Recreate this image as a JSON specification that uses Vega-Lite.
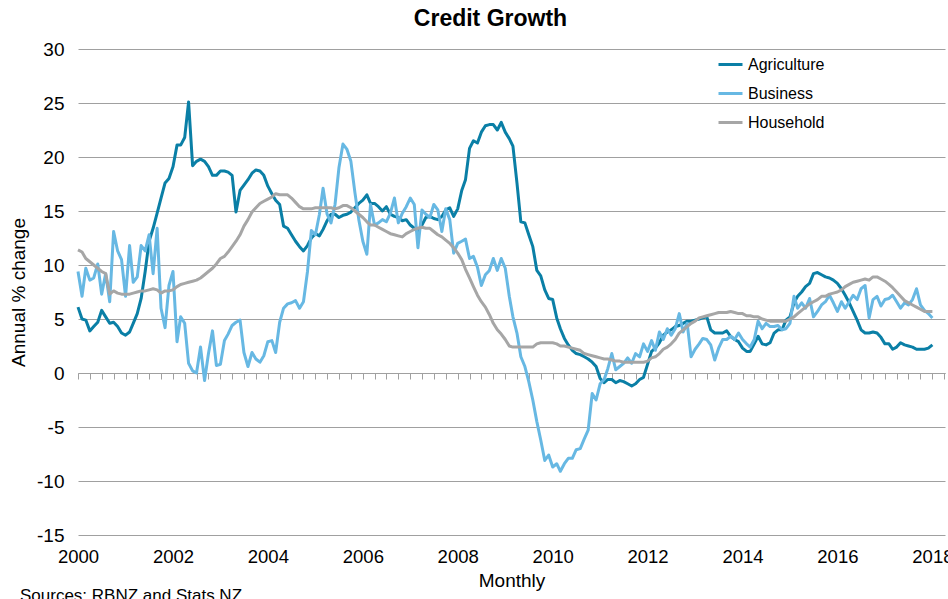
{
"$schema":"https://vega.github.io/schema/vega-lite/v6.json",
"width":867,"height":486,
"autosize":"none",
"padding":{"left":78,"top":49,"right":3,"bottom":64},
"background":"white",
"config":{"font":"Liberation Sans","view":{"stroke":null}},
"title":{"text":"Credit Growth","fontSize":23,"fontWeight":"bold","color":"black","anchor":"middle","frame":"group","dx":-21,"dy":-9,"offset":0,"baseline":"top"},
"datasets":{"credit":[
{"d":"2000/01/01","Agriculture":6.1,"Business":9.4,"Household":11.4},
{"d":"2000/02/01","Agriculture":5.0,"Business":7.1,"Household":11.2},
{"d":"2000/03/01","Agriculture":4.9,"Business":9.7,"Household":10.6},
{"d":"2000/04/01","Agriculture":3.9,"Business":8.6,"Household":10.3},
{"d":"2000/05/01","Agriculture":4.3,"Business":8.8,"Household":10.0},
{"d":"2000/06/01","Agriculture":4.7,"Business":10.1,"Household":9.7},
{"d":"2000/07/01","Agriculture":5.8,"Business":7.3,"Household":9.4},
{"d":"2000/08/01","Agriculture":5.2,"Business":9.2,"Household":9.2},
{"d":"2000/09/01","Agriculture":4.6,"Business":6.6,"Household":7.3},
{"d":"2000/10/01","Agriculture":4.7,"Business":13.1,"Household":7.6},
{"d":"2000/11/01","Agriculture":4.3,"Business":11.3,"Household":7.4},
{"d":"2000/12/01","Agriculture":3.7,"Business":10.5,"Household":7.3},
{"d":"2001/01/01","Agriculture":3.5,"Business":7.1,"Household":7.3},
{"d":"2001/02/01","Agriculture":3.8,"Business":11.8,"Household":7.3},
{"d":"2001/03/01","Agriculture":4.6,"Business":8.4,"Household":7.4},
{"d":"2001/04/01","Agriculture":5.5,"Business":8.9,"Household":7.5},
{"d":"2001/05/01","Agriculture":6.9,"Business":11.8,"Household":7.6},
{"d":"2001/06/01","Agriculture":9.4,"Business":11.3,"Household":7.6},
{"d":"2001/07/01","Agriculture":12.2,"Business":12.8,"Household":7.7},
{"d":"2001/08/01","Agriculture":13.4,"Business":9.2,"Household":7.8},
{"d":"2001/09/01","Agriculture":14.8,"Business":13.4,"Household":7.7},
{"d":"2001/10/01","Agriculture":16.2,"Business":6.0,"Household":7.4},
{"d":"2001/11/01","Agriculture":17.6,"Business":4.2,"Household":7.6},
{"d":"2001/12/01","Agriculture":18.0,"Business":8.1,"Household":7.6},
{"d":"2002/01/01","Agriculture":19.1,"Business":9.4,"Household":7.7},
{"d":"2002/02/01","Agriculture":21.1,"Business":2.9,"Household":8.0},
{"d":"2002/03/01","Agriculture":21.1,"Business":5.2,"Household":8.2},
{"d":"2002/04/01","Agriculture":21.8,"Business":4.6,"Household":8.3},
{"d":"2002/05/01","Agriculture":25.1,"Business":0.9,"Household":8.4},
{"d":"2002/06/01","Agriculture":19.2,"Business":0.2,"Household":8.5},
{"d":"2002/07/01","Agriculture":19.6,"Business":0.0,"Household":8.6},
{"d":"2002/08/01","Agriculture":19.8,"Business":2.4,"Household":8.8},
{"d":"2002/09/01","Agriculture":19.6,"Business":-0.7,"Household":9.1},
{"d":"2002/10/01","Agriculture":19.1,"Business":1.8,"Household":9.4},
{"d":"2002/11/01","Agriculture":18.3,"Business":3.9,"Household":9.7},
{"d":"2002/12/01","Agriculture":18.3,"Business":0.7,"Household":10.1},
{"d":"2003/01/01","Agriculture":18.7,"Business":0.8,"Household":10.6},
{"d":"2003/02/01","Agriculture":18.7,"Business":3.0,"Household":10.8},
{"d":"2003/03/01","Agriculture":18.6,"Business":3.6,"Household":11.2},
{"d":"2003/04/01","Agriculture":18.3,"Business":4.4,"Household":11.7},
{"d":"2003/05/01","Agriculture":14.9,"Business":4.7,"Household":12.2},
{"d":"2003/06/01","Agriculture":16.9,"Business":4.9,"Household":12.8},
{"d":"2003/07/01","Agriculture":17.4,"Business":1.9,"Household":13.6},
{"d":"2003/08/01","Agriculture":17.9,"Business":0.6,"Household":14.2},
{"d":"2003/09/01","Agriculture":18.5,"Business":1.9,"Household":14.9},
{"d":"2003/10/01","Agriculture":18.8,"Business":1.3,"Household":15.3},
{"d":"2003/11/01","Agriculture":18.7,"Business":1.0,"Household":15.7},
{"d":"2003/12/01","Agriculture":18.3,"Business":1.6,"Household":15.9},
{"d":"2004/01/01","Agriculture":17.3,"Business":2.9,"Household":16.1},
{"d":"2004/02/01","Agriculture":16.6,"Business":3.0,"Household":16.3},
{"d":"2004/03/01","Agriculture":16.0,"Business":1.9,"Household":16.6},
{"d":"2004/04/01","Agriculture":15.6,"Business":4.7,"Household":16.5},
{"d":"2004/05/01","Agriculture":13.6,"Business":6.0,"Household":16.5},
{"d":"2004/06/01","Agriculture":13.4,"Business":6.4,"Household":16.5},
{"d":"2004/07/01","Agriculture":12.8,"Business":6.5,"Household":16.2},
{"d":"2004/08/01","Agriculture":12.2,"Business":6.7,"Household":15.8},
{"d":"2004/09/01","Agriculture":11.7,"Business":6.0,"Household":15.4},
{"d":"2004/10/01","Agriculture":11.3,"Business":6.6,"Household":15.2},
{"d":"2004/11/01","Agriculture":11.8,"Business":9.4,"Household":15.2},
{"d":"2004/12/01","Agriculture":12.5,"Business":13.2,"Household":15.2},
{"d":"2005/01/01","Agriculture":12.9,"Business":12.8,"Household":15.3},
{"d":"2005/02/01","Agriculture":12.7,"Business":14.7,"Household":15.3},
{"d":"2005/03/01","Agriculture":13.3,"Business":17.1,"Household":15.3},
{"d":"2005/04/01","Agriculture":14.1,"Business":14.7,"Household":15.3},
{"d":"2005/05/01","Agriculture":14.7,"Business":13.9,"Household":15.3},
{"d":"2005/06/01","Agriculture":14.7,"Business":15.6,"Household":15.2},
{"d":"2005/07/01","Agriculture":14.4,"Business":19.0,"Household":15.3},
{"d":"2005/08/01","Agriculture":14.6,"Business":21.2,"Household":15.5},
{"d":"2005/09/01","Agriculture":14.7,"Business":20.7,"Household":15.5},
{"d":"2005/10/01","Agriculture":14.9,"Business":19.6,"Household":15.3},
{"d":"2005/11/01","Agriculture":15.3,"Business":16.7,"Household":15.0},
{"d":"2005/12/01","Agriculture":15.7,"Business":14.2,"Household":14.7},
{"d":"2006/01/01","Agriculture":16.0,"Business":12.2,"Household":14.4},
{"d":"2006/02/01","Agriculture":16.5,"Business":11.0,"Household":14.0},
{"d":"2006/03/01","Agriculture":15.7,"Business":15.6,"Household":13.7},
{"d":"2006/04/01","Agriculture":15.7,"Business":13.7,"Household":13.7},
{"d":"2006/05/01","Agriculture":15.4,"Business":13.9,"Household":13.5},
{"d":"2006/06/01","Agriculture":15.0,"Business":14.2,"Household":13.3},
{"d":"2006/07/01","Agriculture":15.4,"Business":14.0,"Household":13.1},
{"d":"2006/08/01","Agriculture":14.7,"Business":14.8,"Household":12.9},
{"d":"2006/09/01","Agriculture":14.5,"Business":16.2,"Household":12.8},
{"d":"2006/10/01","Agriculture":14.4,"Business":13.9,"Household":12.7},
{"d":"2006/11/01","Agriculture":14.1,"Business":14.8,"Household":12.6},
{"d":"2006/12/01","Agriculture":14.2,"Business":15.4,"Household":12.9},
{"d":"2007/01/01","Agriculture":13.7,"Business":16.2,"Household":13.1},
{"d":"2007/02/01","Agriculture":13.4,"Business":15.6,"Household":13.3},
{"d":"2007/03/01","Agriculture":13.1,"Business":11.6,"Household":13.4},
{"d":"2007/04/01","Agriculture":13.7,"Business":15.1,"Household":13.5},
{"d":"2007/05/01","Agriculture":14.4,"Business":14.7,"Household":13.4},
{"d":"2007/06/01","Agriculture":14.5,"Business":14.4,"Household":13.4},
{"d":"2007/07/01","Agriculture":14.3,"Business":15.6,"Household":13.1},
{"d":"2007/08/01","Agriculture":14.2,"Business":15.1,"Household":12.8},
{"d":"2007/09/01","Agriculture":14.5,"Business":13.1,"Household":12.6},
{"d":"2007/10/01","Agriculture":15.1,"Business":15.2,"Household":12.3},
{"d":"2007/11/01","Agriculture":15.3,"Business":14.2,"Household":12.0},
{"d":"2007/12/01","Agriculture":14.5,"Business":11.1,"Household":11.6},
{"d":"2008/01/01","Agriculture":15.2,"Business":12.0,"Household":11.1},
{"d":"2008/02/01","Agriculture":16.9,"Business":12.2,"Household":10.5},
{"d":"2008/03/01","Agriculture":17.9,"Business":12.4,"Household":9.6},
{"d":"2008/04/01","Agriculture":20.8,"Business":10.6,"Household":8.8},
{"d":"2008/05/01","Agriculture":21.5,"Business":10.8,"Household":8.0},
{"d":"2008/06/01","Agriculture":21.3,"Business":9.8,"Household":7.2},
{"d":"2008/07/01","Agriculture":22.3,"Business":8.1,"Household":6.6},
{"d":"2008/08/01","Agriculture":22.9,"Business":9.1,"Household":6.1},
{"d":"2008/09/01","Agriculture":23.0,"Business":9.5,"Household":5.4},
{"d":"2008/10/01","Agriculture":23.0,"Business":10.6,"Household":4.6},
{"d":"2008/11/01","Agriculture":22.5,"Business":9.5,"Household":4.0},
{"d":"2008/12/01","Agriculture":23.2,"Business":10.6,"Household":3.6},
{"d":"2009/01/01","Agriculture":22.3,"Business":9.7,"Household":3.1},
{"d":"2009/02/01","Agriculture":21.7,"Business":7.1,"Household":2.5},
{"d":"2009/03/01","Agriculture":21.0,"Business":5.2,"Household":2.4},
{"d":"2009/04/01","Agriculture":17.6,"Business":3.7,"Household":2.4},
{"d":"2009/05/01","Agriculture":14.0,"Business":1.5,"Household":2.4},
{"d":"2009/06/01","Agriculture":13.9,"Business":0.6,"Household":2.4},
{"d":"2009/07/01","Agriculture":12.8,"Business":-0.8,"Household":2.4},
{"d":"2009/08/01","Agriculture":11.7,"Business":-2.5,"Household":2.4},
{"d":"2009/09/01","Agriculture":9.5,"Business":-4.5,"Household":2.7},
{"d":"2009/10/01","Agriculture":9.0,"Business":-6.2,"Household":2.8},
{"d":"2009/11/01","Agriculture":7.7,"Business":-8.1,"Household":2.8},
{"d":"2009/12/01","Agriculture":6.9,"Business":-7.6,"Household":2.8},
{"d":"2010/01/01","Agriculture":6.8,"Business":-8.7,"Household":2.8},
{"d":"2010/02/01","Agriculture":5.1,"Business":-8.4,"Household":2.7},
{"d":"2010/03/01","Agriculture":4.1,"Business":-9.1,"Household":2.5},
{"d":"2010/04/01","Agriculture":3.2,"Business":-8.4,"Household":2.5},
{"d":"2010/05/01","Agriculture":2.6,"Business":-7.9,"Household":2.4},
{"d":"2010/06/01","Agriculture":2.1,"Business":-7.9,"Household":2.3},
{"d":"2010/07/01","Agriculture":1.8,"Business":-7.1,"Household":2.2},
{"d":"2010/08/01","Agriculture":1.7,"Business":-7.0,"Household":2.1},
{"d":"2010/09/01","Agriculture":1.5,"Business":-6.1,"Household":1.8},
{"d":"2010/10/01","Agriculture":1.3,"Business":-5.3,"Household":1.7},
{"d":"2010/11/01","Agriculture":1.0,"Business":-1.9,"Household":1.6},
{"d":"2010/12/01","Agriculture":0.6,"Business":-2.5,"Household":1.5},
{"d":"2011/01/01","Agriculture":-0.5,"Business":-1.0,"Household":1.4},
{"d":"2011/02/01","Agriculture":-0.9,"Business":-0.6,"Household":1.3},
{"d":"2011/03/01","Agriculture":-0.6,"Business":0.4,"Household":1.3},
{"d":"2011/04/01","Agriculture":-0.6,"Business":1.8,"Household":1.2},
{"d":"2011/05/01","Agriculture":-0.9,"Business":0.3,"Household":1.1},
{"d":"2011/06/01","Agriculture":-0.7,"Business":0.6,"Household":1.1},
{"d":"2011/07/01","Agriculture":-0.8,"Business":0.9,"Household":1.0},
{"d":"2011/08/01","Agriculture":-1.0,"Business":1.4,"Household":1.0},
{"d":"2011/09/01","Agriculture":-1.2,"Business":0.9,"Household":1.0},
{"d":"2011/10/01","Agriculture":-1.0,"Business":1.8,"Household":1.0},
{"d":"2011/11/01","Agriculture":-0.6,"Business":1.5,"Household":1.0},
{"d":"2011/12/01","Agriculture":-0.4,"Business":2.7,"Household":1.0},
{"d":"2012/01/01","Agriculture":0.8,"Business":2.0,"Household":1.1},
{"d":"2012/02/01","Agriculture":2.0,"Business":3.0,"Household":1.4},
{"d":"2012/03/01","Agriculture":2.3,"Business":2.1,"Household":1.5},
{"d":"2012/04/01","Agriculture":2.8,"Business":3.8,"Household":1.8},
{"d":"2012/05/01","Agriculture":3.5,"Business":3.1,"Household":2.2},
{"d":"2012/06/01","Agriculture":3.8,"Business":4.1,"Household":2.4},
{"d":"2012/07/01","Agriculture":4.0,"Business":3.5,"Household":2.7},
{"d":"2012/08/01","Agriculture":4.3,"Business":4.1,"Household":3.1},
{"d":"2012/09/01","Agriculture":4.4,"Business":5.5,"Household":3.7},
{"d":"2012/10/01","Agriculture":4.6,"Business":3.8,"Household":4.0},
{"d":"2012/11/01","Agriculture":4.8,"Business":4.6,"Household":4.3},
{"d":"2012/12/01","Agriculture":4.8,"Business":1.5,"Household":4.6},
{"d":"2013/01/01","Agriculture":4.9,"Business":2.2,"Household":4.8},
{"d":"2013/02/01","Agriculture":5.0,"Business":2.7,"Household":5.1},
{"d":"2013/03/01","Agriculture":5.1,"Business":3.2,"Household":5.2},
{"d":"2013/04/01","Agriculture":5.2,"Business":3.1,"Household":5.3},
{"d":"2013/05/01","Agriculture":4.0,"Business":2.6,"Household":5.4},
{"d":"2013/06/01","Agriculture":3.7,"Business":1.2,"Household":5.5},
{"d":"2013/07/01","Agriculture":3.7,"Business":2.3,"Household":5.6},
{"d":"2013/08/01","Agriculture":3.7,"Business":3.1,"Household":5.6},
{"d":"2013/09/01","Agriculture":3.9,"Business":3.1,"Household":5.6},
{"d":"2013/10/01","Agriculture":3.4,"Business":3.4,"Household":5.7},
{"d":"2013/11/01","Agriculture":3.1,"Business":3.1,"Household":5.6},
{"d":"2013/12/01","Agriculture":2.9,"Business":3.7,"Household":5.5},
{"d":"2014/01/01","Agriculture":2.3,"Business":3.1,"Household":5.5},
{"d":"2014/02/01","Agriculture":2.0,"Business":2.7,"Household":5.3},
{"d":"2014/03/01","Agriculture":2.0,"Business":2.4,"Household":5.3},
{"d":"2014/04/01","Agriculture":2.7,"Business":3.1,"Household":5.2},
{"d":"2014/05/01","Agriculture":3.4,"Business":4.8,"Household":5.2},
{"d":"2014/06/01","Agriculture":2.7,"Business":4.1,"Household":5.0},
{"d":"2014/07/01","Agriculture":2.6,"Business":4.6,"Household":4.9},
{"d":"2014/08/01","Agriculture":2.8,"Business":4.3,"Household":4.8},
{"d":"2014/09/01","Agriculture":3.7,"Business":4.3,"Household":4.8},
{"d":"2014/10/01","Agriculture":4.0,"Business":4.4,"Household":4.8},
{"d":"2014/11/01","Agriculture":4.0,"Business":4.0,"Household":4.8},
{"d":"2014/12/01","Agriculture":4.9,"Business":4.1,"Household":4.8},
{"d":"2015/01/01","Agriculture":5.2,"Business":4.6,"Household":5.0},
{"d":"2015/02/01","Agriculture":6.5,"Business":7.1,"Household":5.2},
{"d":"2015/03/01","Agriculture":7.1,"Business":6.0,"Household":5.5},
{"d":"2015/04/01","Agriculture":7.5,"Business":6.5,"Household":5.8},
{"d":"2015/05/01","Agriculture":8.0,"Business":6.0,"Household":6.1},
{"d":"2015/06/01","Agriculture":8.3,"Business":6.9,"Household":6.4},
{"d":"2015/07/01","Agriculture":9.2,"Business":5.2,"Household":6.6},
{"d":"2015/08/01","Agriculture":9.3,"Business":5.7,"Household":6.8},
{"d":"2015/09/01","Agriculture":9.1,"Business":6.3,"Household":7.1},
{"d":"2015/10/01","Agriculture":8.9,"Business":6.6,"Household":7.1},
{"d":"2015/11/01","Agriculture":8.8,"Business":7.2,"Household":7.3},
{"d":"2015/12/01","Agriculture":8.6,"Business":6.5,"Household":7.4},
{"d":"2016/01/01","Agriculture":8.3,"Business":5.7,"Household":7.5},
{"d":"2016/02/01","Agriculture":7.8,"Business":6.6,"Household":7.7},
{"d":"2016/03/01","Agriculture":7.2,"Business":6.0,"Household":8.0},
{"d":"2016/04/01","Agriculture":6.5,"Business":6.6,"Household":8.2},
{"d":"2016/05/01","Agriculture":5.7,"Business":7.2,"Household":8.4},
{"d":"2016/06/01","Agriculture":4.9,"Business":6.8,"Household":8.5},
{"d":"2016/07/01","Agriculture":4.0,"Business":7.8,"Household":8.6},
{"d":"2016/08/01","Agriculture":3.7,"Business":8.1,"Household":8.7},
{"d":"2016/09/01","Agriculture":3.7,"Business":5.1,"Household":8.6},
{"d":"2016/10/01","Agriculture":3.8,"Business":6.8,"Household":8.9},
{"d":"2016/11/01","Agriculture":3.7,"Business":7.1,"Household":8.9},
{"d":"2016/12/01","Agriculture":3.3,"Business":6.2,"Household":8.7},
{"d":"2017/01/01","Agriculture":2.7,"Business":6.8,"Household":8.5},
{"d":"2017/02/01","Agriculture":2.7,"Business":6.9,"Household":8.2},
{"d":"2017/03/01","Agriculture":2.2,"Business":7.2,"Household":7.9},
{"d":"2017/04/01","Agriculture":2.4,"Business":6.6,"Household":7.5},
{"d":"2017/05/01","Agriculture":2.8,"Business":6.0,"Household":7.1},
{"d":"2017/06/01","Agriculture":2.6,"Business":6.5,"Household":6.7},
{"d":"2017/07/01","Agriculture":2.5,"Business":6.3,"Household":6.5},
{"d":"2017/08/01","Agriculture":2.4,"Business":6.8,"Household":6.3},
{"d":"2017/09/01","Agriculture":2.2,"Business":7.8,"Household":6.1},
{"d":"2017/10/01","Agriculture":2.2,"Business":6.3,"Household":5.9},
{"d":"2017/11/01","Agriculture":2.2,"Business":5.8,"Household":5.7},
{"d":"2017/12/01","Agriculture":2.3,"Business":5.5,"Household":5.7},
{"d":"2018/01/01","Agriculture":2.6,"Business":5.1,"Household":5.7}
],
"note":[{"d":"2000/01/01","v":-21.1,"t":"Sources: RBNZ and Stats NZ"}]},
"layer":[
{"data":{"name":"credit"},
"transform":[{"fold":["Agriculture","Business","Household"],"as":["series","value"]}],
"mark":{"type":"line","strokeWidth":3,"strokeJoin":"round"},
"encoding":{
"x":{"field":"d","type":"temporal",
"scale":{"domain":[{"year":2000,"month":1,"date":1},{"year":2018,"month":4,"date":8}],"nice":false},
"axis":{"orient":"bottom","offset":-162,"zindex":0,"tickCount":{"interval":"month","step":3},"grid":false,
"domainColor":"#a0a0a0","tickColor":"#a0a0a0","tickSize":6,"labelPadding":168,
"labelExpr":"month(datum.value) == 0 && year(datum.value) % 2 == 0 ? timeFormat(datum.value, '%Y') : ''",
"labelOverlap":false,"labelFlush":false,"labelFontSize":18.5,"labelColor":"black",
"title":"Monthly","titleFontSize":19,"titleFontWeight":"normal","titlePadding":6,"titleColor":"black"}},
"y":{"field":"value","type":"quantitative","scale":{"domain":[-15,30],"nice":false,"zero":false},
"axis":{"values":[-15,-10,-5,0,5,10,15,20,25,30],"domain":false,"ticks":false,"grid":true,"gridColor":"#a0a0a0","gridOpacity":1,
"labelExpr":"datum.value < 0 ? '-' + abs(datum.value) : '' + datum.value",
"labelFontSize":19,"labelPadding":14,"labelColor":"black",
"title":"Annual % change","titleFontSize":19,"titleFontWeight":"normal","titlePadding":8,"titleColor":"black"}},
"color":{"field":"series","type":"nominal",
"scale":{"domain":["Agriculture","Business","Household"],"range":["#0a7fa6","#67b8e3","#a6a6a6"]},
"legend":{"orient":"none","legendX":639,"legendY":2,"title":null,"symbolType":"stroke","symbolSize":576,"symbolStrokeWidth":3,
"labelFontSize":16,"labelColor":"black","rowPadding":7,"labelOffset":4}}
}},
{"data":{"name":"note"},
"mark":{"type":"text","align":"left","baseline":"alphabetic","fontSize":17,"dx":-58,"color":"black"},
"encoding":{"x":{"field":"d","type":"temporal"},"y":{"field":"v","type":"quantitative"},"text":{"field":"t"}}}
]
}
